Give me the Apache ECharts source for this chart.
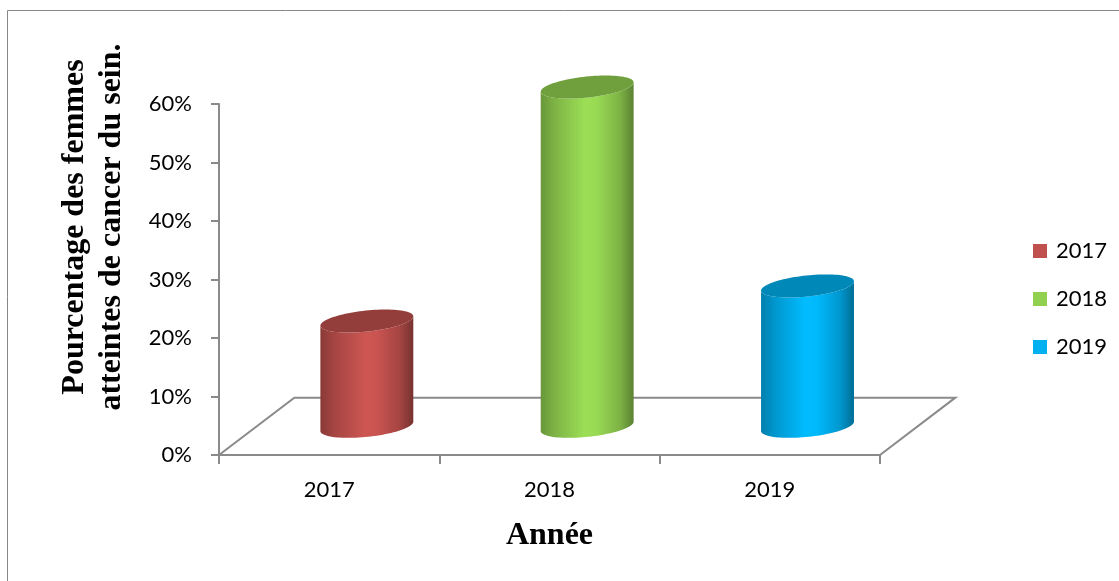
<!DOCTYPE html>
<html>
<head>
<meta charset="utf-8">
<script src="https://cdn.jsdelivr.net/npm/echarts@6/dist/echarts.min.js"></script>
<style>
  html, body { margin: 0; padding: 0; background: #ffffff; }
  #chart { width: 1119px; height: 581px; }
</style>
</head>
<body>
<div id="chart"></div>
<script>
// Share of women with breast cancer, per year
const categories = ['2017', '2018', '2019'];
const seriesNames = ['2017', '2018', '2019'];
const values = [0.18, 0.58, 0.24];
const yTickLabels = ['0%', '10%', '20%', '30%', '40%', '50%', '60%'];
const colors = ['#c0504d', '#92d050', '#00b0f0'];

const AXIS_GRAY = '#8a8a8a';
const LABEL_FONT = 'Lato';
const TITLE_FONT = 'Liberation Serif';

// Scale an RGB hex colour by a factor (shading of the cylinder faces)
function shade(hex, f) {
  const n = parseInt(hex.slice(1), 16);
  const ch = [(n >> 16) & 255, (n >> 8) & 255, n & 255]
    .map(c => Math.max(0, Math.min(255, Math.round(c * f))));
  return 'rgb(' + ch.join(',') + ')';
}

// Oblique depth of the floor, taken from the axes' scales
function depth(api) {
  const band = api.size([1, 0])[0];
  return { dx: band * 0.342, dy: api.size([0, 0.098])[1] };
}

// Point on a tilted ellipse (tilt: radians, right end raised)
function ellipsePoint(cx, cy, a, b, tilt, t) {
  const ux = Math.cos(tilt), uy = -Math.sin(tilt);
  const wx = Math.sin(tilt), wy = Math.cos(tilt);
  return [cx + a * Math.cos(t) * ux + b * Math.sin(t) * wx,
          cy + a * Math.cos(t) * uy + b * Math.sin(t) * wy];
}

function renderFloor(params, api) {
  const band = api.size([1, 0])[0];
  const first = api.coord([0, 0]);
  const last = api.coord([categories.length - 1, 0]);
  const x0 = first[0] - band / 2;
  const x1 = last[0] + band / 2;
  const y0 = first[1];
  const d = depth(api);
  return {
    type: 'polyline',
    shape: { points: [[x0, y0], [x0 + d.dx, y0 - d.dy], [x1 + d.dx, y0 - d.dy], [x1, y0]] },
    style: { stroke: AXIS_GRAY, lineWidth: 2, fill: null }
  };
}

function renderCylinder(params, api) {
  const cat = api.value(0);
  const v = api.value(1);
  const band = api.size([1, 0])[0];
  const d = depth(api);
  const base = api.coord([cat, 0]);
  const top = api.coord([cat, v]);
  const cx = base[0] + d.dx / 2;
  const yb = base[1] - d.dy / 2;
  const yt = top[1] - d.dy / 2;
  const a = band * 0.212;
  const b = a * 0.225;
  const tilt = 6 * Math.PI / 180;
  const N = 48;

  const bodyPts = [];
  for (let i = 0; i <= N; i++) bodyPts.push(ellipsePoint(cx, yb, a, b, tilt, Math.PI - Math.PI * i / N));
  for (let i = 0; i <= N; i++) bodyPts.push(ellipsePoint(cx, yt, a, b, tilt, Math.PI * i / N));

  const lidPts = [];
  for (let i = 0; i < 2 * N; i++) lidPts.push(ellipsePoint(cx, yt, a, b, tilt, Math.PI * i / N));

  const c = api.visual('color');
  const grad = new echarts.graphic.LinearGradient(0, 0, 1, 0, [
    { offset: 0, color: shade(c, 0.72) },
    { offset: 0.15, color: shade(c, 0.86) },
    { offset: 0.48, color: shade(c, 1.07) },
    { offset: 0.6, color: shade(c, 1.05) },
    { offset: 0.85, color: shade(c, 0.86) },
    { offset: 1, color: shade(c, 0.62) }
  ]);

  return {
    type: 'group',
    children: [
      { type: 'polygon', shape: { points: bodyPts }, style: { fill: grad } },
      { type: 'polygon', shape: { points: lidPts }, style: { fill: shade(c, 0.77) } }
    ]
  };
}

const chart = echarts.init(document.getElementById('chart'), null, { renderer: 'canvas' });

chart.setOption({
  animation: false,
  backgroundColor: '#ffffff',
  grid: { left: 219, right: 239, top: 104, bottom: 126, containLabel: false },
  legend: {
    data: seriesNames.map(n => ({ name: n, icon: 'rect' })),
    orient: 'vertical',
    left: 1028,
    top: 235,
    itemWidth: 14,
    itemHeight: 14,
    itemGap: 26,
    selectedMode: false,
    textStyle: { fontFamily: LABEL_FONT, fontSize: 22, lineHeight: 22, color: '#000', padding: [0, 0, 0, 4] }
  },
  xAxis: {
    type: 'category',
    data: categories,
    name: 'Année',
    nameLocation: 'middle',
    nameGap: 65,
    nameTextStyle: { fontFamily: TITLE_FONT, fontWeight: 'bold', fontSize: 32, color: '#000' },
    axisLine: { show: true, lineStyle: { color: AXIS_GRAY, width: 2 } },
    axisTick: { show: true, length: 9, alignWithLabel: false, lineStyle: { color: AXIS_GRAY, width: 2 } },
    axisLabel: { margin: 24, fontFamily: LABEL_FONT, fontSize: 22, color: '#000' },
    splitLine: { show: false }
  },
  yAxis: {
    type: 'value',
    min: 0,
    max: 0.6,
    interval: 0.1,
    axisLine: { show: true, lineStyle: { color: AXIS_GRAY, width: 2 } },
    axisTick: { show: true, length: 8, lineStyle: { color: AXIS_GRAY, width: 2 } },
    axisLabel: {
      margin: 27,
      fontFamily: LABEL_FONT,
      fontSize: 22,
      color: '#000',
      formatter: v => yTickLabels[Math.round(v * 10)]
    },
    splitLine: { show: false }
  },
  graphic: [
    {
      type: 'rect',
      silent: true,
      z: -10,
      shape: { x: 7.5, y: 10.5, width: 1200, height: 700 },
      style: { fill: null, stroke: '#878787', lineWidth: 1 }
    },
    {
      type: 'text',
      silent: true,
      x: 93,
      y: 227,
      rotation: Math.PI / 2,
      style: {
        text: 'Pourcentage des femmes\natteintes de cancer du sein.',
        fontFamily: TITLE_FONT,
        fontWeight: 'bold',
        fontSize: 32,
        lineHeight: 37,
        fill: '#000',
        textAlign: 'center',
        textVerticalAlign: 'middle'
      }
    }
  ],
  series: [
    {
      type: 'custom',
      name: 'floor',
      silent: true,
      clip: false,
      z: 1,
      encode: { x: 0, y: 1 },
      data: [[0, 0]],
      renderItem: renderFloor
    }
  ].concat(seriesNames.map((name, i) => ({
    type: 'custom',
    name: name,
    color: colors[i],
    clip: false,
    z: 2,
    encode: { x: 0, y: 1 },
    data: [[i, values[i]]],
    renderItem: renderCylinder
  })))
});
</script>
</body>
</html>
